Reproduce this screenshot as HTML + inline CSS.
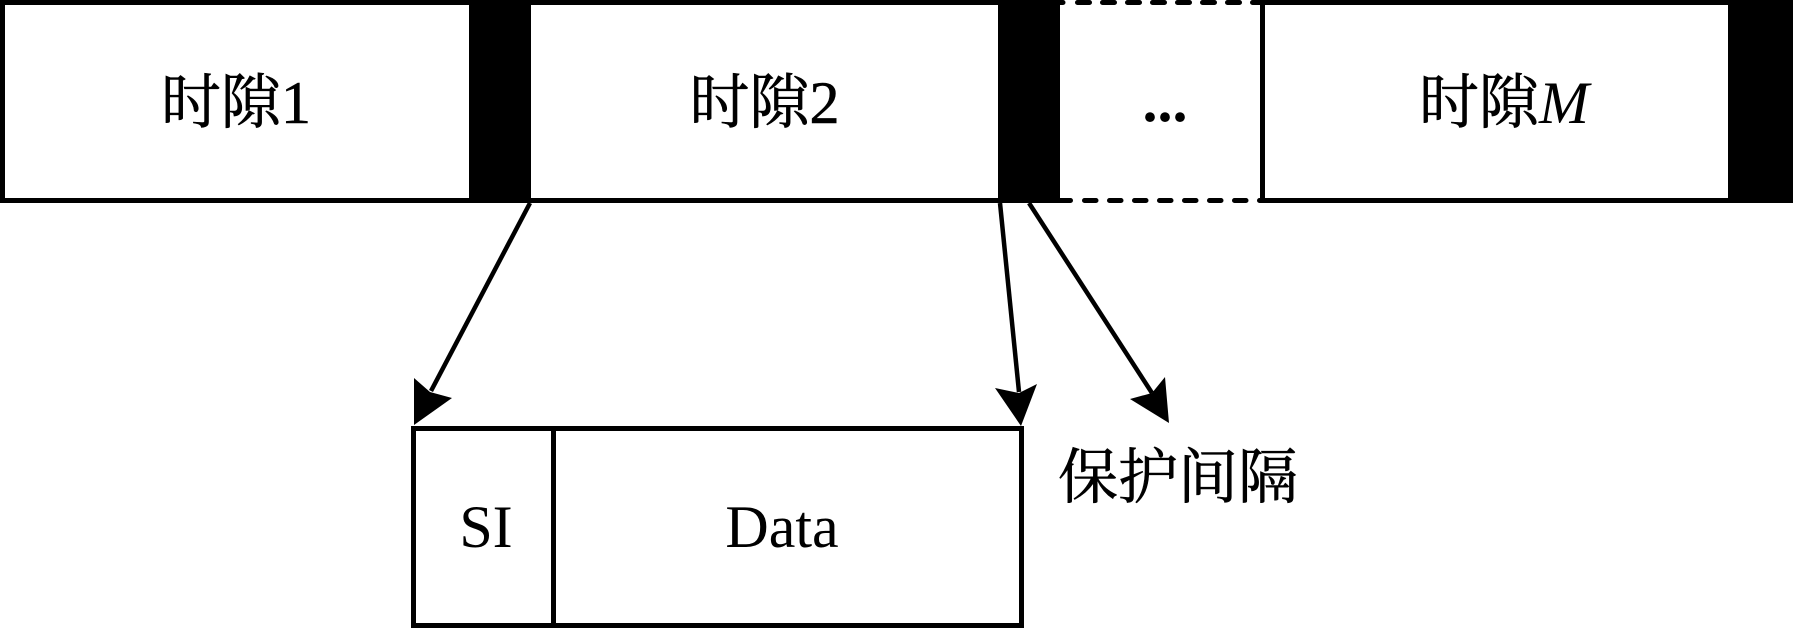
<!DOCTYPE html>
<html>
<head>
<meta charset="utf-8">
<style>
  html, body { margin: 0; padding: 0; background: #fff; }
  svg { display: block; }
  text { font-family: "Liberation Serif", "Noto Serif CJK SC", serif; fill: #000; }
  .cjk { stroke: #000; stroke-width: 0.6; }
</style>
</head>
<body>
<svg width="1793" height="630" viewBox="0 0 1793 630" xmlns="http://www.w3.org/2000/svg">
  <rect x="0" y="0" width="1793" height="630" fill="#fff"/>

  <!-- top frame solid parts -->
  <line x1="0" y1="2.5" x2="1062" y2="2.5" stroke="#000" stroke-width="5"/>
  <line x1="1262" y1="2.5" x2="1793" y2="2.5" stroke="#000" stroke-width="5"/>
  <!-- bottom frame solid parts -->
  <line x1="0" y1="200.5" x2="1062" y2="200.5" stroke="#000" stroke-width="5"/>
  <line x1="1262" y1="200.5" x2="1793" y2="200.5" stroke="#000" stroke-width="5"/>

  <!-- dashed parts -->
  <line x1="1060" y1="2.5" x2="1063" y2="2.5" stroke="#000" stroke-width="5" stroke-linecap="round"/>
  <line x1="1077.5" y1="2.5" x2="1262" y2="2.5" stroke="#000" stroke-width="5" stroke-linecap="round" stroke-dasharray="12 13"/>
  <line x1="1060" y1="200.5" x2="1070.5" y2="200.5" stroke="#000" stroke-width="5" stroke-linecap="round"/>
  <line x1="1084.5" y1="200.5" x2="1262" y2="200.5" stroke="#000" stroke-width="5" stroke-linecap="round" stroke-dasharray="11.5 13.5"/>

  <!-- left border -->
  <line x1="2.5" y1="0" x2="2.5" y2="203" stroke="#000" stroke-width="5"/>
  <!-- slot M left border -->
  <line x1="1262.5" y1="0" x2="1262.5" y2="203" stroke="#000" stroke-width="5"/>

  <!-- guard intervals -->
  <rect x="469" y="0" width="62" height="203" fill="#000"/>
  <rect x="998" y="0" width="62" height="203" fill="#000"/>
  <rect x="1728" y="0" width="65" height="203" fill="#000"/>

  <!-- slot labels -->
  <text class="cjk" x="236" y="123" font-size="60" text-anchor="middle">时隙1</text>
  <text class="cjk" x="764.5" y="123" font-size="60" text-anchor="middle">时隙2</text>
  <text x="1165" y="121" font-size="60" font-weight="bold" text-anchor="middle">...</text>
  <text class="cjk" x="1419" y="123" font-size="60">时隙<tspan font-style="italic" stroke-width="0">M</tspan></text>

  <!-- arrows -->
  <line x1="530" y1="203" x2="431" y2="391" stroke="#000" stroke-width="4.5"/>
  <polygon points="414,425 414,378 430,392 452,398" fill="#000"/>

  <line x1="1000" y1="203" x2="1019" y2="392" stroke="#000" stroke-width="4.5"/>
  <polygon points="1021,426 995,388 1019,393 1037,384" fill="#000"/>

  <line x1="1029" y1="203" x2="1152" y2="393" stroke="#000" stroke-width="4.5"/>
  <polygon points="1169,423 1130,399 1152,393 1165,377" fill="#000"/>

  <!-- bottom slot structure -->
  <rect x="413.5" y="428.5" width="608" height="197" fill="none" stroke="#000" stroke-width="5"/>
  <line x1="553.5" y1="428.5" x2="553.5" y2="625.5" stroke="#000" stroke-width="5"/>

  <text x="486" y="547" font-size="60" text-anchor="middle">SI</text>
  <text x="782" y="547" font-size="60" text-anchor="middle">Data</text>

  <text class="cjk" x="1178" y="498" font-size="60" text-anchor="middle">保护间隔</text>
</svg>
</body>
</html>
